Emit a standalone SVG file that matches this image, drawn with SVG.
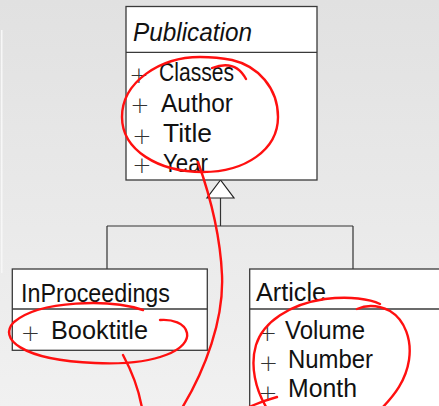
<svg xmlns="http://www.w3.org/2000/svg" width="439" height="406" viewBox="0 0 439 406">
  <defs>
    <linearGradient id="bg" x1="0" y1="0" x2="0" y2="1">
      <stop offset="0" stop-color="#e1e1e1"/>
      <stop offset="1" stop-color="#f1f1f1"/>
    </linearGradient>
    <style>
      .box { fill: #ffffff; stroke: #3a3a3a; stroke-width: 1.3; }
      .div { stroke: #3a3a3a; stroke-width: 1.3; }
      .name { font-family: "Liberation Sans", Arial, sans-serif; font-size: 26px; fill: #111; }
      .attr { font-family: "Liberation Sans", Arial, sans-serif; font-size: 25.5px; fill: #111; }
      .plus { font-family: "DejaVu Sans", sans-serif; font-weight: 200; font-size: 23px; fill: #333; text-anchor: middle; }
      .conn { fill: none; stroke: #333; stroke-width: 1.2; }
      .ink { fill: none; stroke: #ff1010; stroke-width: 2.4; stroke-linecap: round; stroke-linejoin: round; }
    </style>
  </defs>

  <!-- backdrop -->
  <rect x="0" y="0" width="439" height="406" fill="url(#bg)"/>
  <rect x="1" y="30" width="1.5" height="243" fill="#f7f7f7"/>

  <!-- generalization connectors -->
  <g id="connectors">
    <path class="conn" d="M220.5,198 V226 M107,226 H353 M107,226 V269 M353,226 V269"/>
    <polygon points="220.5,180 207,198 234,198" fill="#ffffff" stroke="#222" stroke-width="1.2"/>
  </g>

  <!-- abstract base class -->
  <g id="publication">
    <rect class="box" x="126" y="6.5" width="191" height="173.5"/>
    <line class="div" x1="126" y1="52.3" x2="317" y2="52.3"/>
    <text class="name" x="133" y="41" font-style="italic" textLength="119" lengthAdjust="spacingAndGlyphs">Publication</text>
    <text class="plus" x="139" y="82.5">+</text>
    <text class="attr" x="159" y="81" textLength="75" lengthAdjust="spacingAndGlyphs">Classes</text>
    <text class="plus" x="140" y="112.5">+</text>
    <text class="attr" x="161" y="112" textLength="72" lengthAdjust="spacingAndGlyphs">Author</text>
    <text class="plus" x="142" y="143.5">+</text>
    <text class="attr" x="163" y="142" textLength="49" lengthAdjust="spacingAndGlyphs">Title</text>
    <text class="plus" x="142" y="172.5">+</text>
    <text class="attr" x="163" y="172" textLength="45" lengthAdjust="spacingAndGlyphs">Year</text>
  </g>

  <g id="inproceedings">
    <rect class="box" x="12.3" y="269" width="195" height="81.3"/>
    <line class="div" x1="12.3" y1="309" x2="207.3" y2="309"/>
    <text class="name" x="21" y="302" textLength="149" lengthAdjust="spacingAndGlyphs">InProceedings</text>
    <text class="plus" x="30.5" y="340.5">+</text>
    <text class="attr" x="51" y="339" textLength="97" lengthAdjust="spacingAndGlyphs">Booktitle</text>
  </g>

  <g id="article">
    <rect class="box" x="249.7" y="269" width="200" height="150"/>
    <line class="div" x1="249.7" y1="309" x2="439" y2="309"/>
    <text class="name" x="256" y="301" textLength="70" lengthAdjust="spacingAndGlyphs">Article</text>
    <text class="plus" x="267.5" y="340.5">+</text>
    <text class="attr" x="285" y="339" textLength="80" lengthAdjust="spacingAndGlyphs">Volume</text>
    <text class="plus" x="268.5" y="370.5">+</text>
    <text class="attr" x="288" y="368" textLength="85" lengthAdjust="spacingAndGlyphs">Number</text>
    <text class="plus" x="268" y="400.5">+</text>
    <text class="attr" x="288" y="397" textLength="69" lengthAdjust="spacingAndGlyphs">Month</text>
  </g>

  <!-- hand-drawn pen marks -->
  <g id="annotations">
    <path class="ink" d="M232,60 C258,66 278,88 278,117 C278,150 245,172 203,172 C158,172 122,150 122,117 C122,82 160,57 200,57 C212,57 222,58 232,60"/>
    <path class="ink" stroke-width="1.6" d="M212,68 C225,63 238,64 246,79"/>
    <path class="ink" d="M198,162 C208,190 220,230 222,275 C224,320 205,370 182,408"/>
    <path class="ink" d="M143,310 C110,299 40,300 14,322 C-2,338 20,360 95,363 C160,366 190,348 187,333 C185,323 172,319 160,320"/>
    <path class="ink" d="M123,355 C130,368 138,385 142,408"/>
    <path class="ink" d="M357,309 C366,305 378,305 390,311 C405,320 412,340 409,360 C406,380 395,395 380,410"/>
    <path class="ink" d="M268,410 C255,390 250,365 256,345 C263,322 290,304 325,299 C350,296 370,299 380,304"/>
    <path class="ink" d="M245,409 C255,404 266,400 277,397"/>
  </g>
</svg>
